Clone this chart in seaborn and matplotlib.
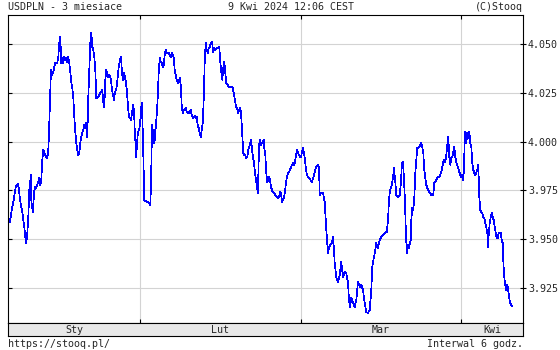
import matplotlib
matplotlib.use("Agg")
import matplotlib.pyplot as plt
import seaborn as sns
import pandas as pd

# ---------------- data (time index ~ chart bars, USDPLN rate) ----------------
jan = [(1.7,3.9588),(2.7,3.9615),(3.7,3.9650),(4.7,3.9675),(5.7,3.9701),(6.7,3.9737),(7.7,3.9768),(9.0,3.9778),(10.0,3.9783),(11.0,3.9752),(12.0,3.9701),(13.3,3.9665),(14.3,3.9639),(15.3,3.9598),(16.3,3.9563),(17.3,3.9511),(18.3,3.9480),(19.3,3.9532),(20.3,3.9614),(21.3,3.9752),(22.0,3.9778),(22.7,3.9829),(23.3,3.9701),(24.0,3.9665),(25.0,3.9639),(26.0,3.9737),(27.0,3.9768),(28.3,3.9763),(29.3,3.9778),(30.3,3.9793),(31.3,3.9814),(32.3,3.9778),(33.3,3.9804),(34.3,3.9906),(35.3,3.9958),(36.3,3.9942),(37.3,3.9932),(38.3,3.9922),(39.3,3.9916),(40.3,3.9958),(41.0,4.0045),(41.7,4.0163),(42.7,4.0327),(43.3,4.0368),(44.3,4.0342),(45.3,4.0358),(46.3,4.0383),(47.3,4.0404),(48.3,4.0404),(49.3,4.0404),(50.3,4.0435),(51.3,4.0506),(52.3,4.0537),(53.3,4.0404),(54.3,4.0430),(55.3,4.0404),(56.3,4.0435),(57.3,4.0419),(58.3,4.0430),(59.3,4.0409),(60.3,4.0435),(61.3,4.0404),(62.3,4.0353),(63.3,4.0306),(64.3,4.0276),(65.3,4.0229),(66.3,4.0127),(67.3,4.0050),(68.3,3.9993),(69.3,3.9958),(70.3,3.9932),(71.3,3.9942),(72.3,3.9993),(73.3,4.0024),(74.3,4.0045),(75.3,4.0060),(76.3,4.0086),(77.3,4.0070),(78.3,4.0096),(79.3,4.0024),(80.3,4.0229),(81.3,4.0368),(82.3,4.0506),(83.3,4.0558),(84.3,4.0486),(85.3,4.0471),(86.3,4.0435),(87.3,4.0368),(88.3,4.0224),(89.3,4.0224),(90.3,4.0229),(91.3,4.0240),(92.3,4.0250),(93.3,4.0255),(94.3,4.0265),(95.3,4.0204),(96.3,4.0178),(97.3,4.0317),(98.3,4.0368),(99.3,4.0342),(100.3,4.0332),(101.3,4.0342),(102.3,4.0332),(103,4.0317),(104,4.0265),(105,4.0240),(106,4.0214),(107,4.0255),(108,4.0265),(109,4.0291),(110,4.0353),(111,4.0394),(112,4.0419),(113,4.0435),(114,4.0353),(115,4.0317),(116,4.0353),(117,4.0332),(118,4.0301),(119,4.0255),(120,4.0178),(121,4.0127),(122,4.0122),(123,4.0111),(124,4.0147),(125,4.0188),(126,4.0163),(126.7,4.0060),(127.3,4.0009),(128.3,3.9922),(129,3.9993),(130,4.0050),(131,4.0060),(132,4.0086)]

feb = [(133,4.0163),(133.7,4.0199),(134.3,4.0127),(135,4.0009),(135.7,3.9840),(136.3,3.9701),(137.3,3.9696),(138.3,3.9696),(139.3,3.9691),(140.3,3.9691),(141.3,3.9686),(142.3,3.9675),(143,3.9778),(143.7,3.9983),(144.3,4.0086),(145,4.0009),(145.7,4.0060),(146.3,3.9993),(147,4.0024),(147.7,4.0070),(148.7,4.0137),(149.7,4.0224),(150.7,4.0353),(151.7,4.0430),(152.7,4.0409),(153.7,4.0404),(154.7,4.0383),(155.7,4.0394),(156.7,4.0445),(157.7,4.0471),(158.7,4.0455),(159.7,4.0455),(160.7,4.0455),(161.7,4.0445),(162.7,4.0435),(163.7,4.0455),(164.7,4.0445),(165.7,4.0430),(166.7,4.0368),(167.7,4.0342),(168.7,4.0317),(169.7,4.0301),(170.7,4.0306),(171.7,4.0327),(172.7,4.0291),(173.7,4.0188),(174.7,4.0147),(175.7,4.0163),(176.7,4.0168),(177.7,4.0173),(178.7,4.0152),(179.7,4.0147),(180.7,4.0152),(181.7,4.0147),(182.7,4.0163),(183.7,4.0137),(184.7,4.0122),(185.7,4.0127),(186.7,4.0132),(187.7,4.0122),(188.7,4.0127),(189.7,4.0086),(190.7,4.0070),(191.7,4.0045),(192.7,4.0024),(193.7,4.0060),(194.7,4.0096),(195.7,4.0214),(196.7,4.0409),(197.7,4.0506),(198.7,4.0471),(199.7,4.0455),(200.7,4.0481),(201.7,4.0486),(202.7,4.0506),(204,4.0512),(205.3,4.0460),(206.3,4.0481),(207.3,4.0471),(208.7,4.0481),(210,4.0481),(211.3,4.0486),(212.3,4.0409),(213.3,4.0358),(214.3,4.0317),(215.3,4.0378),(216.3,4.0409),(217.3,4.0353),(218.3,4.0301),(219.7,4.0291),(221,4.0281),(222.3,4.0281),(223.7,4.0281),(224.7,4.0276),(226,4.0240),(227,4.0214),(228,4.0178),(229,4.0173),(230,4.0147),(231,4.0163),(232,4.0173),(233,4.0152),(233.7,4.0086),(234.7,3.9993),(235.3,3.9942),(236.3,3.9932),(237.3,3.9932),(238.3,3.9916),(239.3,3.9922),(240.3,3.9958),(241.3,3.9973),(242.3,3.9993),(243.3,4.0009),(244,3.9958),(245,3.9922),(246,3.9891),(247,3.9840),(248,3.9804),(249,3.9768),(249.7,3.9737),(250.3,3.9819),(251,3.9973),(251.7,4.0009),(252.7,3.9983),(253.7,3.9993),(254.7,3.9999),(255.7,4.0009),(256.3,3.9968),(257.3,3.9932),(258.3,3.9840),(259.3,3.9793),(260.3,3.9804),(261.3,3.9819),(262.3,3.9793),(263.3,3.9763),(264.7,3.9742),(266,3.9737),(267.3,3.9727),(268.7,3.9716),(270,3.9711),(271,3.9716),(272,3.9742),(273,3.9737),(274,3.9691),(275,3.9701),(276,3.9716),(277,3.9742),(278,3.9793),(279,3.9819),(280,3.9840),(281,3.9845),(282,3.9855),(283,3.9870),(284,3.9881),(285,3.9891),(286,3.9881),(287,3.9896),(288,3.9932),(289,3.9958),(290,3.9942),(291,3.9932),(292,3.9922),(293,3.9922)]

mar = [(294,3.9947),(295,3.9968),(296,3.9942),(297,3.9906),(298,3.9855),(299,3.9829),(300,3.9819),(301.7,3.9809),(304,3.9793),(306,3.9829),(308,3.9870),(310,3.9881),(311,3.9870),(311.7,3.9727),(313.3,3.9737),(315,3.9737),(316.7,3.9691),(318.3,3.9547),(320,3.9429),(321,3.9460),(322.3,3.9470),(324,3.9480),(325,3.9511),(326,3.9445),(326.7,3.9378),(328.3,3.9306),(330,3.9280),(331.7,3.9316),(333.3,3.9383),(335,3.9306),(336.7,3.9332),(338.3,3.9327),(340,3.9275),(341,3.9188),(342,3.9152),(343.3,3.9198),(345,3.9178),(346.7,3.9152),(348.3,3.9188),(350,3.9280),(351.7,3.9255),(353.3,3.9265),(355,3.9239),(356.7,3.9173),(358.3,3.9126),(360,3.9121),(361.7,3.9137),(363.3,3.9239),(364.3,3.9357),(366,3.9409),(367.3,3.9445),(368.3,3.9480),(370,3.9455),(371.7,3.9496),(373.3,3.9511),(375,3.9521),(376.7,3.9532),(378.7,3.9537),(380,3.9598),(381,3.9701),(382,3.9752),(383.3,3.9768),(385,3.9814),(386,3.9865),(387.3,3.9793),(388.3,3.9727),(390,3.9716),(391.7,3.9727),(392.7,3.9778),(394,3.9891),(395,3.9896),(396,3.9804),(397,3.9686),(398,3.9511),(399,3.9429),(400,3.9470),(401,3.9455),(402.7,3.9496),(403.3,3.9598),(404.3,3.9660),(405.3,3.9650),(406.3,3.9711),(407.3,3.9840),(408.3,3.9906),(409.3,3.9968),(410.3,3.9968),(411.3,3.9973),(412.3,3.9983),(413.3,3.9993),(414.3,3.9973),(415.3,3.9942),(416.3,3.9855),(417.3,3.9814),(418.3,3.9778),(419.3,3.9763),(420.3,3.9752),(421.3,3.9742),(422.3,3.9737),(423.3,3.9727),(424.3,3.9732),(425.3,3.9727),(426.3,3.9788),(427.3,3.9793),(428.3,3.9804),(429.3,3.9814),(430.3,3.9819),(431.3,3.9819),(432.3,3.9829),(433.3,3.9845),(434.3,3.9870),(435.3,3.9896),(436.3,3.9906),(437.3,3.9896),(438.3,3.9932),(439.3,3.9983),(440.3,4.0024),(441.3,3.9922),(442.3,3.9881),(443.3,3.9916),(444.3,3.9922),(445.3,3.9947),(446.3,3.9973),(447.3,3.9922),(448.3,3.9896),(449.3,3.9881),(450.3,3.9865),(451.3,3.9845),(452.3,3.9829),(453.3,3.9819)]

apr = [(454.3,3.9829),(455.3,3.9804),(456,3.9870),(456.7,4.0009),(457.3,4.0050),(458.3,3.9993),(459.3,4.0045),(460.3,4.0019),(461.3,4.0050),(462.3,3.9993),(463.3,3.9973),(464.3,3.9891),(465.3,3.9855),(466.3,3.9840),(467.3,3.9829),(468.3,3.9840),(469.3,3.9855),(470,3.9881),(470.7,3.9819),(471.3,3.9716),(472.3,3.9650),(473.3,3.9639),(474.3,3.9634),(475.3,3.9614),(476.3,3.9609),(477.3,3.9583),(478.3,3.9563),(479.3,3.9532),(480,3.9460),(480.7,3.9521),(481.7,3.9583),(482.7,3.9614),(483.7,3.9634),(484.7,3.9614),(485.7,3.9598),(486.7,3.9563),(487.7,3.9532),(488.7,3.9506),(489.7,3.9506),(490.7,3.9532),(491.7,3.9532),(492.7,3.9532),(493.7,3.9496),(494.7,3.9480),(495.3,3.9393),(496,3.9316),(497,3.9275),(498,3.9239),(499,3.9265),(500,3.9250),(501,3.9203),(502,3.9178),(503,3.9162),(504,3.9157)]

months = ["Sty", "Lut", "Mar", "Kwi"]
month_starts = [0, 132, 293, 453]   # first bar of each month on the time index
t_end = 515
y_ticks = [3.925, 3.950, 3.975, 4.000, 4.025, 4.050]
y_range = (3.9070, 4.0650)

title_left = "USDPLN - 3 miesiace"
title_mid = "9 Kwi 2024 12:06 CEST"
title_right = "(C)Stooq"
foot_left = "https://stooq.pl/"
foot_right = "Interwal 6 godz."

# ---------------- drawing ----------------
sns.set_style("white")
plt.rcParams['font.family'] = ['DejaVu Sans Mono', 'DejaVu Sans']
FS = 7.2

df = pd.DataFrame(jan + feb + mar + apr, columns=["t", "v"])

W, H = 560, 350
def box(l, t, r, b):
    return [l / W, 1 - b / H, (r - l) / W, (b - t) / H]

fig = plt.figure(figsize=(W / 100, H / 100), dpi=100)
fig.patch.set_facecolor("white")

ax = fig.add_axes(box(8, 15, 523, 323))
sns.lineplot(data=df, x="t", y="v", ax=ax, color="#0000ff", linewidth=0.5,
             estimator=None, sort=False)
for ln in ax.lines:
    ln.set_antialiased(False)
ax.set_xlim(0, t_end)
ax.set_ylim(*y_range)
ax.set_xticks(month_starts[1:])
ax.set_yticks(y_ticks)
ax.set_xlabel("")
ax.set_ylabel("")
ax.grid(True, color="#d3d3d3", linewidth=0.8)
ax.set_axisbelow(True)
ax.tick_params(axis="x", top=True, bottom=True, direction="in", length=3,
               width=0.8, color="black", labelbottom=False)
ax.tick_params(axis="y", left=True, right=False, direction="in", length=3,
               width=0.8, color="black", labelleft=False)
for s in ax.spines.values():
    s.set_color("black")
    s.set_linewidth(0.8)

ax2 = ax.twinx()
ax2.set_ylim(*y_range)
ax2.set_yticks(y_ticks)
ax2.set_yticklabels([f"{v:.3f}" for v in y_ticks])
ax2.tick_params(axis="y", right=True, direction="inout", length=5, width=0.8,
                pad=1, labelsize=FS, color="black")
ax2.grid(False)
for s in ax2.spines.values():
    s.set_visible(False)

band = fig.add_axes(box(8, 323, 523, 336))
band.set_facecolor("#e8e8e8")
band.set_xlim(0, t_end)
band.set_ylim(0, 1)
band.set_xticks([])
band.set_yticks([])
for s in band.spines.values():
    s.set_color("black")
    s.set_linewidth(0.8)
bounds = month_starts + [t_end]
for i, m in enumerate(months):
    band.text((bounds[i] + bounds[i + 1]) / 2, 0.45, m, ha="center",
              va="center", fontsize=FS)

def ftext(x, y, s, ha):
    fig.text(x / W, 1 - y / H, s, ha=ha, va="center", fontsize=FS)

ftext(8, 7, title_left, "left")
ftext(291, 7, title_mid, "center")
ftext(523, 7, title_right, "right")
ftext(8, 344, foot_left, "left")
ftext(523, 344, foot_right, "right")

fig.savefig("out.png", dpi=100, facecolor="white")
